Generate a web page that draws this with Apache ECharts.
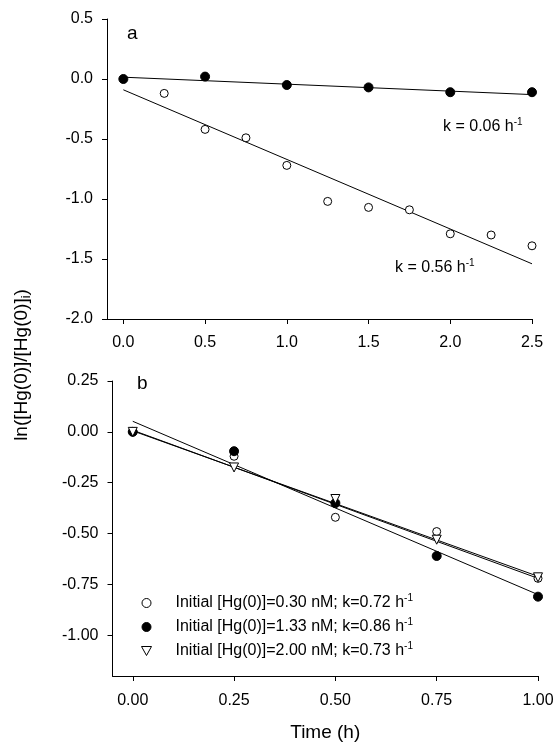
<!doctype html>
<html>
	<head>
		<meta charset="utf-8">
		<title>Hg(0) oxidation</title>
		<style>
			html, body { margin: 0; padding: 0; background: #fff; }
			#chart { width: 555px; height: 745px; }
		</style>
	</head>
	<body>
		<div id="chart"></div>
		<script src="https://cdn.jsdelivr.net/npm/echarts@6/dist/echarts.min.js"></script>
		<script type="text/javascript">
			// panel a
			var timeOpenA = [0.25, 0.5, 0.75, 1.0, 1.25, 1.5, 1.75, 2.0, 2.25, 2.5];
			var lnOpenA = [-0.12, -0.42, -0.49, -0.72, -1.02, -1.07, -1.09, -1.29, -1.30, -1.39];
			var timeFilledA = [0, 0.5, 1.0, 1.5, 2.0, 2.5];
			var lnFilledA = [0.0, 0.02, -0.05, -0.07, -0.11, -0.11];
			var fitTimeA = [0, 2.5];
			var fitFilledA = [0.015, -0.13];
			var fitOpenA = [-0.09, -1.54];
			var xTicksA = [0, 0.5, 1.0, 1.5, 2.0, 2.5];
			var yTicksA = [-2.0, -1.5, -1.0, -0.5, 0.0, 0.5];

			// panel b
			var timeB = [0, 0.25, 0.5, 0.75, 1.0];
			var ln030 = [0, -0.12, -0.42, -0.49, -0.72];
			var ln133 = [0, -0.095, -0.35, -0.61, -0.81];
			var ln200 = [0, -0.175, -0.33, -0.53, -0.715];
			var fitTimeB = [0, 1.0];
			var fit030 = [0.005, -0.71];
			var fit133 = [0.052, -0.80];
			var fit200 = [0.008, -0.72];
			var xTicksB = [0, 0.25, 0.5, 0.75, 1.0];
			var yTicksB = [-1.0, -0.75, -0.5, -0.25, 0.0, 0.25];
			var legendNames = [
				'Initial [Hg(0)]=0.30 nM; k=0.72 h',
				'Initial [Hg(0)]=1.33 nM; k=0.86 h',
				'Initial [Hg(0)]=2.00 nM; k=0.73 h'
			];

			var FONT = "'Liberation Sans', Arial, sans-serif";
			var triDown = 'path://M0,0 L10,0 L5,9 Z';

			function pairs(xs, ys) {
				return xs.map(function(x, i) { return [x, ys[i]]; });
			}

			function valueAxis(gridIndex, min, max, ticks, digits, labelMargin) {
				return {
					type: 'value',
					gridIndex: gridIndex,
					min: min,
					max: max,
					splitLine: { show: false },
					axisLine: { show: true, onZero: false, lineStyle: { color: '#000', width: 1 } },
					axisTick: { show: true, length: 5, customValues: ticks, lineStyle: { color: '#000' } },
					axisLabel: {
						customValues: ticks,
						margin: labelMargin,
						color: '#000',
						fontSize: 16,
						fontFamily: FONT,
						formatter: function(v) { return v.toFixed(digits); }
					}
				};
			}

			function fitLine(xi, xs, ys) {
				return {
					type: 'line',
					xAxisIndex: xi,
					yAxisIndex: xi,
					data: pairs(xs, ys),
					symbol: 'none',
					silent: true,
					z: 1,
					lineStyle: { color: '#000', width: 1 }
				};
			}

			function points(name, xi, xs, ys, symbol, fill, size) {
				return {
					name: name,
					type: 'scatter',
					xAxisIndex: xi,
					yAxisIndex: xi,
					data: pairs(xs, ys),
					symbol: symbol,
					symbolSize: size,
					z: 3,
					itemStyle: { color: fill, borderColor: '#000', borderWidth: 1, opacity: 1 }
				};
			}

			var labelRich = {
				t: { fontSize: 16, lineHeight: 20, fontFamily: FONT, color: '#000' },
				sup: { fontSize: 10, lineHeight: 11, verticalAlign: 'top', fontFamily: FONT, color: '#000' }
			};

			var chart = echarts.init(document.getElementById('chart'));
			chart.setOption({
				animation: false,
				backgroundColor: '#fff',
				textStyle: { fontFamily: FONT },
				grid: [
					{ left: 107, right: 23, top: 19, bottom: 426, outerBoundsMode: 'none' },
					{ left: 112.5, right: 17, top: 381, bottom: 69, outerBoundsMode: 'none' }
				],
				xAxis: [
					valueAxis(0, -0.1, 2.5, xTicksA, 1, 16),
					Object.assign(valueAxis(1, -0.05, 1.0, xTicksB, 2, 17), {
						name: 'Time (h)',
						nameLocation: 'middle',
						nameGap: 47,
						nameTextStyle: { fontSize: 19, color: '#000', fontFamily: FONT }
					})
				],
				yAxis: [
					valueAxis(0, -2.0, 0.5, yTicksA, 1, 14),
					valueAxis(1, -1.2, 0.25, yTicksB, 2, 14)
				],
				legend: {
					data: legendNames,
					orient: 'vertical',
					left: 136,
					top: 588,
					itemWidth: 48,
					itemHeight: 9,
					itemGap: 6,
					selectedMode: false,
					itemStyle: { borderWidth: 1 },
					textStyle: { rich: labelRich },
					formatter: function(name) { return '{t|' + name + '}{sup|-1}'; }
				},
				graphic: [
					{ type: 'text', x: 127, y: 34, style: { text: 'a', fontSize: 19, fontFamily: FONT, fill: '#000', verticalAlign: 'middle', textVerticalAlign: 'middle' } },
					{ type: 'text', x: 137, y: 384, style: { text: 'b', fontSize: 19, fontFamily: FONT, fill: '#000', verticalAlign: 'middle', textVerticalAlign: 'middle' } },
					{ type: 'text', x: 443, y: 127, style: { text: '{t|k = 0.06 h}{sup|-1}', rich: labelRich, verticalAlign: 'middle', textVerticalAlign: 'middle' } },
					{ type: 'text', x: 395, y: 268, style: { text: '{t|k = 0.56 h}{sup|-1}', rich: labelRich, verticalAlign: 'middle', textVerticalAlign: 'middle' } },
					{
						type: 'text', x: 22, y: 365, rotation: Math.PI / 2,
						style: {
							text: '{n|ln([Hg(0)]/[Hg(0)]}{s|i}{n|)}',
							align: 'center', textAlign: 'center',
							verticalAlign: 'middle', textVerticalAlign: 'middle',
							rich: {
								n: { fontSize: 19, lineHeight: 22, fontFamily: FONT, color: '#000' },
								s: { fontSize: 13, lineHeight: 14, verticalAlign: 'bottom', fontFamily: FONT, color: '#000' }
							}
						}
					}
				],
				series: [
					fitLine(0, fitTimeA, fitFilledA),
					fitLine(0, fitTimeA, fitOpenA),
					points('openA', 0, timeOpenA, lnOpenA, 'circle', '#fff', 8),
					points('filledA', 0, timeFilledA, lnFilledA, 'circle', '#000', 9),
					fitLine(1, fitTimeB, fit030),
					fitLine(1, fitTimeB, fit133),
					fitLine(1, fitTimeB, fit200),
					points(legendNames[0], 1, timeB, ln030, 'circle', '#fff', 8),
					points(legendNames[1], 1, timeB, ln133, 'circle', '#000', 9),
					points(legendNames[2], 1, timeB, ln200, triDown, '#fff', 9)
				]
			});
		</script>
	</body>
</html>
